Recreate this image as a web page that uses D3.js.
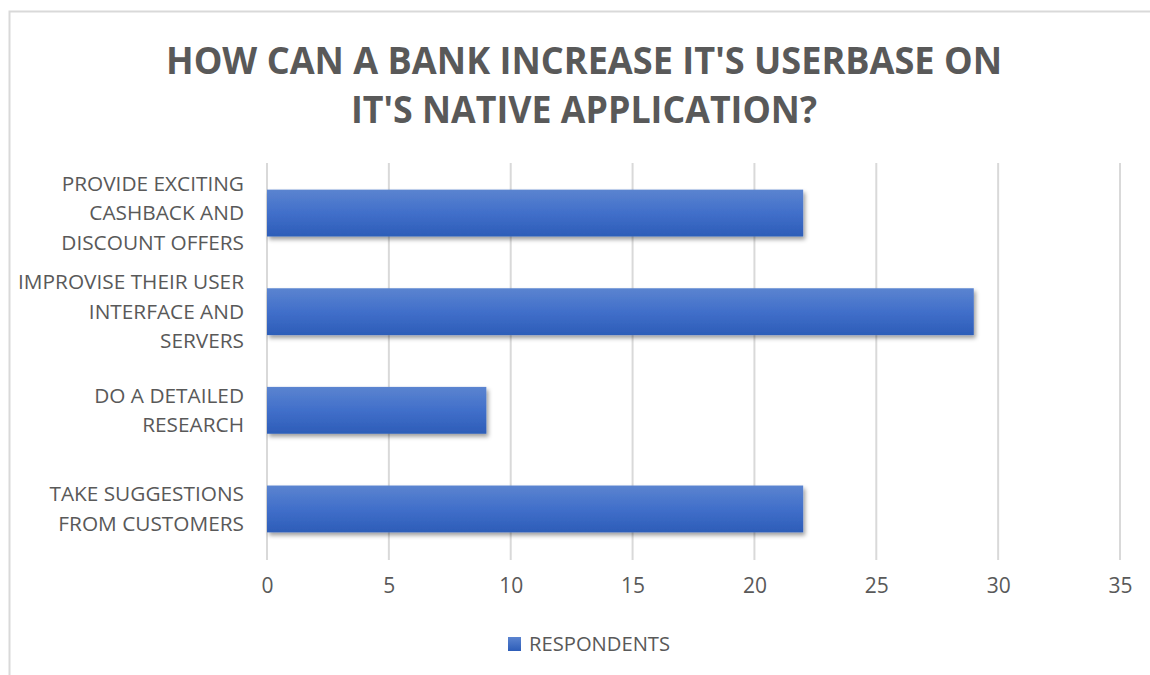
<!DOCTYPE html>
<html>
<head>
<meta charset="utf-8">
<script src="https://cdn.jsdelivr.net/npm/d3@7"></script>
<style>
  html, body { margin: 0; padding: 0; background: #fff; }
  svg { display: block; }
</style>
</head>
<body>
<svg id="chart" width="1150" height="675"></svg>
<script>
// Survey answers, listed top to bottom
const categories = [
  "PROVIDE EXCITING|CASHBACK AND|DISCOUNT OFFERS",
  "IMPROVISE THEIR USER|INTERFACE AND|SERVERS",
  "DO A DETAILED|RESEARCH",
  "TAKE SUGGESTIONS|FROM CUSTOMERS"
];
const respondents = [22, 29, 9, 22];
const xTicks = [0, 5, 10, 15, 20, 25, 30, 35];
const seriesName = "RESPONDENTS";
const titleLines = ["HOW CAN A BANK INCREASE IT'S USERBASE ON", "IT'S NATIVE APPLICATION?"];
const titleWidths = [836, 466];

const svg = d3.select("#chart");
const textColor = "#595959";
const gridColor = "#d9d9d9";

// outer frame
svg.append("rect")
  .attr("x", 9.5).attr("y", 11.5)
  .attr("width", 1160).attr("height", 700)
  .attr("fill", "#fff").attr("stroke", "#d9d9d9").attr("stroke-width", 2);

const defs = svg.append("defs");
const grad = defs.append("linearGradient")
  .attr("id", "barFill").attr("x1", 0).attr("y1", 0).attr("x2", 0).attr("y2", 1);
grad.append("stop").attr("offset", "0%").attr("stop-color", "#5b84d0");
grad.append("stop").attr("offset", "50%").attr("stop-color", "#416fca");
grad.append("stop").attr("offset", "100%").attr("stop-color", "#2d5db8");

const shadow = defs.append("filter").attr("id", "barShadow")
  .attr("x", "-5%").attr("y", "-20%").attr("width", "115%").attr("height", "150%");
shadow.append("feDropShadow")
  .attr("dx", 2).attr("dy", 3).attr("stdDeviation", 2.2)
  .attr("flood-color", "#000").attr("flood-opacity", 0.38);

const legendGrad = defs.append("linearGradient")
  .attr("id", "legendFill").attr("x1", 0).attr("y1", 0).attr("x2", 0).attr("y2", 1);
legendGrad.append("stop").attr("offset", "0%").attr("stop-color", "#5b84d0");
legendGrad.append("stop").attr("offset", "100%").attr("stop-color", "#2d5db8");

// title, two lines
svg.append("g")
  .selectAll("text")
  .data(titleLines)
  .join("text")
  .attr("x", 584)
  .attr("y", (d, i) => 74 + i * 49)
  .attr("text-anchor", "middle")
  .attr("font-family", "'Open Sans', 'DejaVu Sans', sans-serif")
  .attr("font-weight", 700)
  .attr("font-size", 38)
  .attr("fill", textColor)
  .attr("textLength", (d, i) => titleWidths[i])
  .attr("lengthAdjust", "spacingAndGlyphs")
  .text(d => d);

// scales
const x = d3.scaleLinear().domain([0, 35]).range([267, 1120]);
const y = d3.scaleBand().domain(categories).range([163, 559])
  .paddingInner(0.525).paddingOuter(0.27);

// vertical gridlines
svg.append("g")
  .selectAll("line")
  .data(xTicks)
  .join("line")
  .attr("x1", d => x(d)).attr("x2", d => x(d))
  .attr("y1", 163).attr("y2", 560)
  .attr("stroke", gridColor).attr("stroke-width", 2);

// x axis tick labels
const xAxis = d3.axisBottom(x).tickValues(xTicks).tickSize(0).tickPadding(0);
const gx = svg.append("g").attr("transform", "translate(0,578)").call(xAxis);
gx.select(".domain").remove();
gx.selectAll("text")
  .attr("font-family", "'Liberation Sans Narrow', 'Open Sans', sans-serif")
  .attr("font-size", 21)
  .attr("fill", textColor);

// bars
svg.append("g")
  .selectAll("rect")
  .data(categories)
  .join("rect")
  .attr("x", x(0))
  .attr("y", d => y(d))
  .attr("width", (d, i) => x(respondents[i]) - x(0))
  .attr("height", y.bandwidth())
  .attr("fill", "url(#barFill)")
  .attr("filter", "url(#barShadow)");

// category labels
const lineH = 29.5;
const labels = svg.append("g")
  .attr("font-family", "'Open Sans', 'DejaVu Sans', sans-serif")
  .attr("font-size", 20.8)
  .attr("fill", textColor)
  .attr("text-anchor", "end");
categories.forEach(c => {
  const lines = c.split("|");
  const cy = y(c) + y.bandwidth() / 2;
  const t = labels.append("text");
  lines.forEach((ln, i) => {
    t.append("tspan")
      .attr("x", 244)
      .attr("y", cy + (i - (lines.length - 1) / 2) * lineH)
      .attr("dy", "0.35em")
      .text(ln);
  });
});

// legend
svg.append("rect")
  .attr("x", 508).attr("y", 637).attr("width", 13).attr("height", 14)
  .attr("fill", "url(#legendFill)");
svg.append("text")
  .attr("x", 529).attr("y", 644).attr("dy", "0.35em")
  .attr("font-family", "'Open Sans', 'DejaVu Sans', sans-serif")
  .attr("font-size", 20.2)
  .attr("fill", textColor)
  .text(seriesName);
</script>
</body>
</html>
